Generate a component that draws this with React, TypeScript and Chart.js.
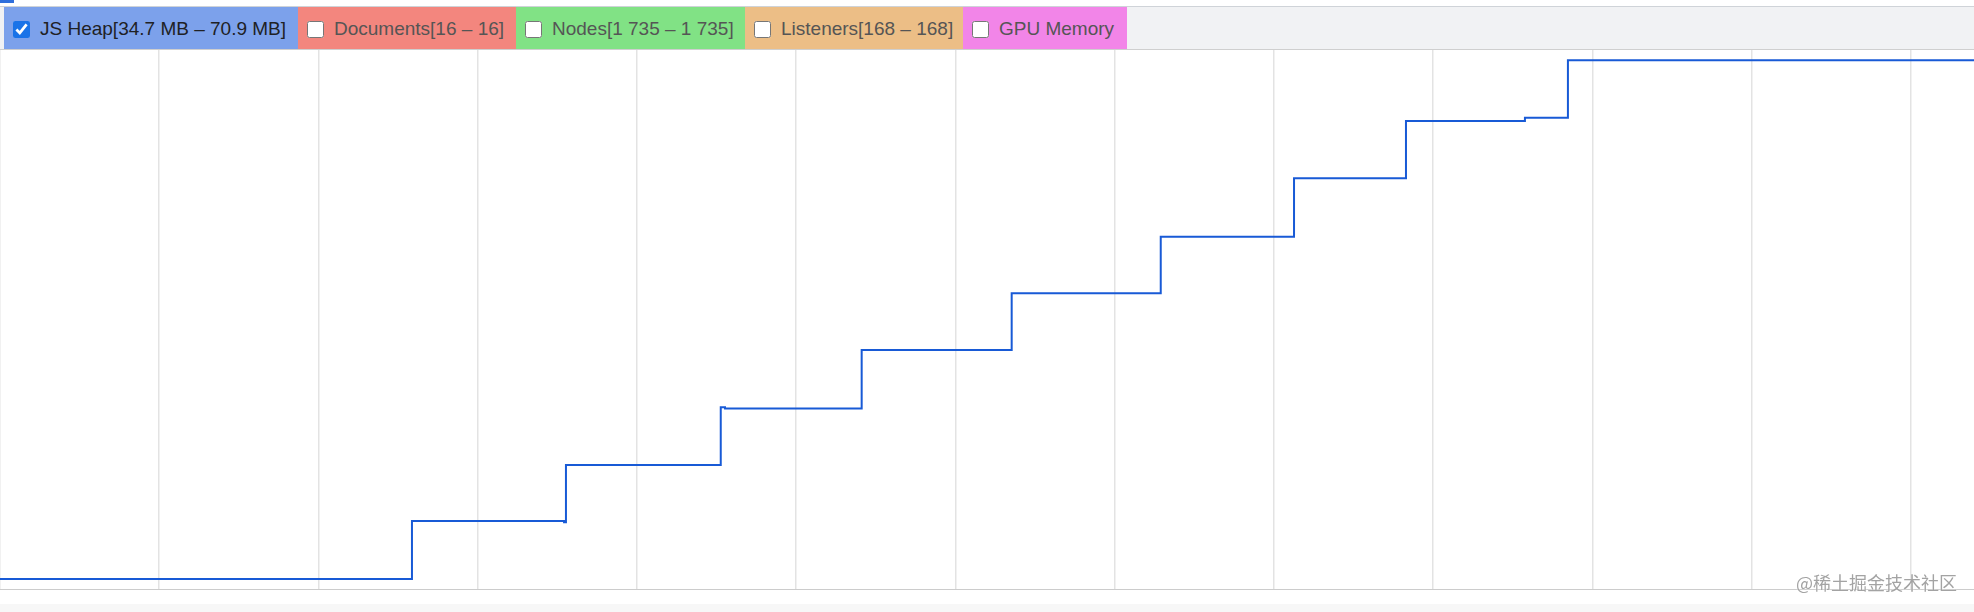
import React, { useEffect, useRef } from 'react';
import { Chart, registerables } from 'chart.js';

Chart.register(...registerables);

// Time of each heap change (ms) and the JS heap size after it (MB)
const timesMs = [0, 2587, 3542, 3554, 4526, 4553, 5411, 6353, 7289, 8126, 8829, 9576, 9846, 12396];
const jsHeapMB = [34.7, 38.75, 38.66, 42.66, 46.68, 46.6, 50.68, 54.64, 58.59, 62.66, 66.66, 66.89, 70.9, 70.9];

// Time grid (one line per second)
const gridTicksMs = [0, 1000, 2000, 3000, 4000, 5000, 6000, 7000, 8000, 9000, 10000, 11000, 12000];

// Legend (counters) shown above the chart
const legendLabels = [
  'JS Heap[34.7 MB – 70.9 MB]',
  'Documents[16 – 16]',
  'Nodes[1 735 – 1 735]',
  'Listeners[168 – 168]',
  'GPU Memory',
];
const legendChecked = [true, false, false, false, false];

const legendColors = ['#7ca1eb', '#f3867e', '#81e285', '#ecbe86', '#f285e8'];
const legendWidths = [294, 218, 229, 218, 164];

const X_MAX = 12396;
const Y_MIN = 34.0;
const Y_MAX = 71.62;

export default function App() {
  const canvasRef = useRef<HTMLCanvasElement | null>(null);

  useEffect(() => {
    if (!canvasRef.current) return;
    const chart = new Chart(canvasRef.current, {
      type: 'line',
      data: {
        datasets: [
          {
            label: 'JS Heap',
            data: timesMs.map((t, i) => ({ x: t, y: jsHeapMB[i] })),
            borderColor: 'rgb(24, 90, 214)',
            borderWidth: 2,
            pointRadius: 0,
            stepped: true,
            fill: false,
            tension: 0,
          },
        ],
      },
      options: {
        animation: false,
        responsive: false,
        maintainAspectRatio: false,
        layout: { padding: 0 },
        plugins: { legend: { display: false }, tooltip: { enabled: false } },
        scales: {
          x: {
            type: 'linear',
            min: 0,
            max: X_MAX,
            display: true,
            afterBuildTicks: (scale: any) => {
              scale.ticks = gridTicksMs.map((v) => ({ value: v }));
            },
            ticks: { display: false },
            grid: { color: '#e3e3e3', lineWidth: 1.5, drawTicks: false },
            border: { display: false },
          },
          y: {
            type: 'linear',
            min: Y_MIN,
            max: Y_MAX,
            display: false,
          },
        },
      },
    });
    return () => chart.destroy();
  }, []);

  return (
    <div
      style={{
        position: 'absolute',
        left: 0,
        top: 0,
        width: 1974,
        height: 612,
        background: '#ffffff',
        overflow: 'hidden',
        fontFamily: '"Liberation Sans", Arial, sans-serif',
      }}
    >
      {/* top strip */}
      <div style={{ position: 'absolute', left: 0, top: 0, width: 1974, height: 6, background: '#fff', borderBottom: '1px solid #cfd3d8' }} />
      <div style={{ position: 'absolute', left: 0, top: 0, width: 14, height: 3, background: '#2f6fdc' }} />
      {/* legend row */}
      <div
        style={{
          position: 'absolute',
          left: 0,
          top: 7,
          width: 1974,
          height: 42,
          background: '#f1f2f4',
          borderBottom: '1px solid #cfcfcf',
          display: 'flex',
          paddingLeft: 4,
          boxSizing: 'content-box',
        }}
      >
        {legendLabels.map((label, i) => (
          <div
            key={label}
            style={{
              width: legendWidths[i],
              height: 42,
              background: legendColors[i],
              display: 'flex',
              alignItems: 'center',
              boxSizing: 'border-box',
              paddingLeft: 9,
              paddingTop: 2,
              whiteSpace: 'nowrap',
              flex: 'none',
            }}
          >
            <input
              type="checkbox"
              checked={legendChecked[i]}
              readOnly
              style={{ width: 17, height: 17, margin: 0, accentColor: '#1a73e8', flex: 'none' }}
            />
            <span
              style={{
                marginLeft: 10,
                fontSize: 19,
                color: legendChecked[i] ? '#202124' : '#555555',
              }}
            >
              {label}
            </span>
          </div>
        ))}
      </div>
      {/* chart */}
      <div style={{ position: 'absolute', left: 0, top: 50, width: 1974, height: 539 }}>
        <canvas ref={canvasRef} width={1974} height={539} style={{ width: 1974, height: 539, display: 'block' }} />
      </div>
      {/* bottom strip */}
      <div style={{ position: 'absolute', left: 0, top: 589, width: 1974, height: 1, background: '#cccccc' }} />
      <div style={{ position: 'absolute', left: 0, top: 604, width: 1974, height: 8, background: '#f7f7f7' }} />
      {/* watermark */}
      <div
        style={{
          position: 'absolute',
          left: 1796,
          top: 571,
          fontSize: 18,
          lineHeight: '22px',
          color: '#a3a3a3',
          fontFamily: '"Noto Sans CJK SC", sans-serif',
          textShadow: '0 0 2px #ffffff',
          whiteSpace: 'nowrap',
        }}
      >
        @稀土掘金技术社区
      </div>
    </div>
  );
}
